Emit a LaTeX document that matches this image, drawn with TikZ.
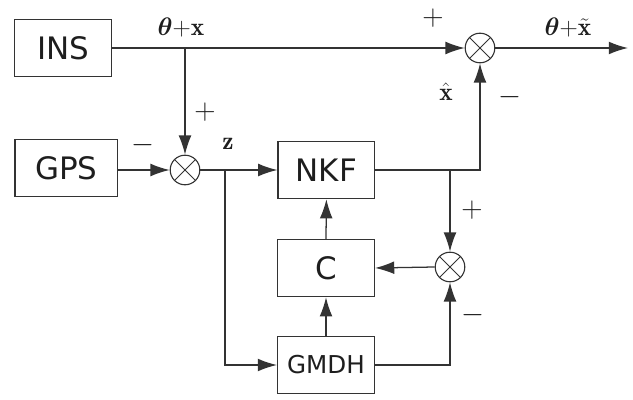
\RequirePackage{fix-cm}
\documentclass[tikz,border=0pt]{standalone}
\usepackage{fontspec}
\usepackage{bm}
\usetikzlibrary{arrows.meta,calc}
\newfontfamily\boxfont{DejaVu Sans}
\definecolor{blkink}{HTML}{1E1E1E}
\definecolor{blkline}{HTML}{333333}

\begin{document}
\begin{tikzpicture}[
  block/.style={
    draw=blkline,
    fill=white,
    text=blkink,
    line width=0.9pt,
    minimum width=2.42cm,
    minimum height=1.43cm,
    inner sep=0pt,
    font=\boxfont\fontsize{22}{24}\selectfont
  },
  summer/.style={
    circle,
    draw=blkline,
    line width=0.8pt,
    minimum size=0.74cm,
    inner sep=0pt
  },
  sign/.style={
    font=\fontsize{21}{22}\selectfont,
    text=blkink,
    inner sep=0pt
  },
  signal/.style={
    font=\fontsize{18}{20}\selectfont,
    text=blkink,
    inner sep=0pt
  },
  wire/.style={
    draw=blkline,
    line width=0.9pt,
    -{Latex[length=0.48cm,width=0.32cm]}
  },
  plain/.style={
    draw=blkline,
    line width=0.9pt
  }
]
\useasboundingbox (0,0) rectangle (15.825,-10);

% blocks
\node[block] (ins) at (1.575,-1.2) {INS};
\node[block,minimum width=2.57cm] (gps) at (1.66,-4.2) {GPS};
\node[block] (nkf) at (8.16,-4.25) {NKF};
\node[block] (cblk) at (8.15,-6.7) {C};
\node[block,font=\boxfont\fontsize{17.5}{20}\selectfont] (gmdh) at (8.15,-9.125) {GMDH};

% summing junctions
\node[summer] (sum1) at (4.625,-4.25) {};
\node[summer] (sum2) at (12.0,-1.2) {};
\node[summer] (sum3) at (11.25,-6.675) {};
\foreach \s in {sum1,sum2,sum3}
  \draw[plain,line width=0.6pt] (\s.north west) -- (\s.south east)
    (\s.north east) -- (\s.south west);

% branch points
\coordinate (insdrop) at (sum1 |- ins.east);
\coordinate (zsplit) at (5.625,-4.25);
\coordinate (nkfsplit) at (sum3 |- nkf.east);
\coordinate (out) at (15.7,-1.2);

% connectors
\draw[wire] (ins.east) -- (sum2.west);
\draw[wire] (insdrop) -- (sum1.north);
\draw[wire] (sum2.east) -- (out);
\draw[wire] (gps.east |- sum1) -- (sum1.west);
\draw[wire] (sum1.east) -- (nkf.west);
\draw[wire] (zsplit) |- (gmdh.west);
\draw[wire] (nkf.east) -| (sum2.south);
\draw[wire] (nkfsplit) -- (sum3.north);
\draw[wire] (sum3.west) -- (cblk.east);
\draw[wire] (cblk.north) -- (nkf.south);
\draw[wire] (gmdh.north) -- (cblk.south);
\draw[wire] (gmdh.east) -| (sum3.south);

% signs and signals
\node[signal] (thx) at (4.525,-0.7) {$\bm{\theta}{+}\mathbf{x}$};
\node[signal] (thxt) at (14.2,-0.7) {$\bm{\theta}{+}\tilde{\mathbf{x}}$};
\node[signal] (xhat) at (11.15,-2.3) {$\hat{\mathbf{x}}$};
\node[signal] (zlab) at (5.7,-3.6) {$\mathbf{z}$};
\node[sign] (p1) at (5.125,-2.8) {$+$};
\node[sign] (m1) at (3.575,-3.62) {$-$};
\node[sign] (p2) at (10.825,-0.45) {$+$};
\node[sign] (m2) at (12.75,-2.42) {$-$};
\node[sign] (p3) at (11.8,-5.25) {$+$};
\node[sign] (m3) at (11.825,-7.875) {$-$};

\end{tikzpicture}
\end{document}
